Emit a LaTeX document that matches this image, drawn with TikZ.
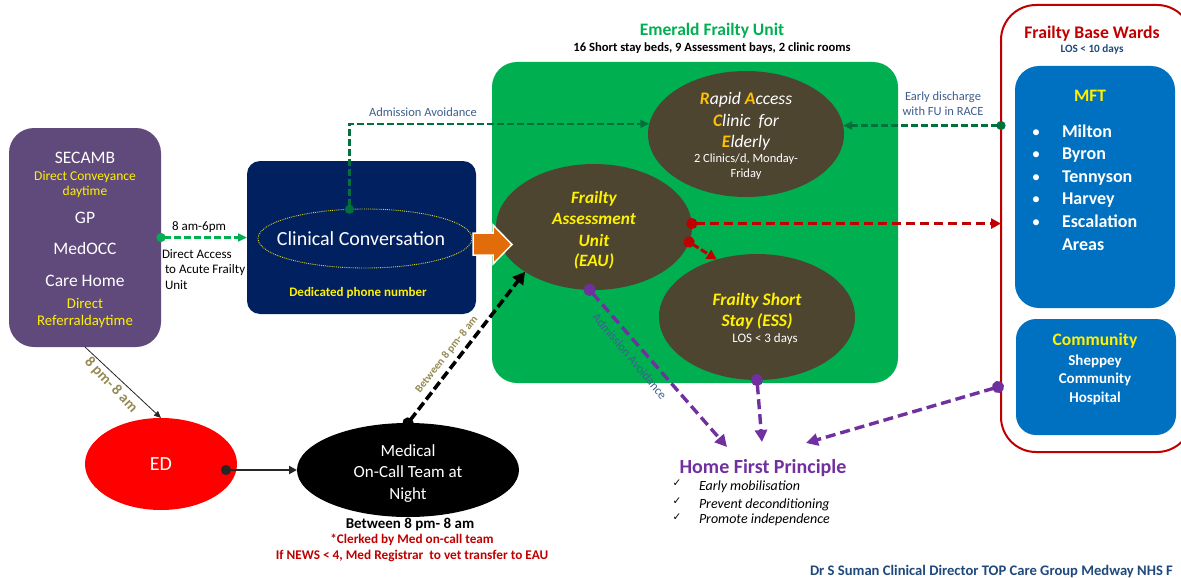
\documentclass[tikz,border=0pt]{standalone}
\usepackage{fontspec}
\setmainfont{Carlito}
\newfontfamily\symfont{DejaVu Sans}
\usetikzlibrary{arrows.meta,shapes.geometric}
\definecolor{purplebox}{HTML}{604A7B}
\definecolor{navybox}{HTML}{002060}
\definecolor{greenbox}{HTML}{00B050}
\definecolor{darkgreen}{HTML}{00703C}
\definecolor{brownel}{HTML}{4D4530}
\definecolor{bluebox}{HTML}{0070C0}
\definecolor{redline}{HTML}{C00000}
\definecolor{homepurple}{HTML}{7030A0}
\definecolor{labelblue}{HTML}{3F5F8F}
\definecolor{navytext}{HTML}{1F497D}
\definecolor{olive}{HTML}{948A54}
\definecolor{goldtxt}{HTML}{FFC000}
\definecolor{orangearrow}{HTML}{E36C0A}
\newcommand{\fs}[1]{\fontsize{#1}{#1}\selectfont}
\newcommand{\vstrut}{\rule[-.25em]{0pt}{1.22em}}
\tikzset{
  x=1pt,y=-1pt,
  box/.style={draw=none,inner sep=0pt,outer sep=0pt,anchor=center},
  oval/.style={ellipse,draw=none,inner sep=0pt,outer sep=0pt,fill=brownel,minimum width=196pt,minimum height=126pt,align=center},
  txt/.style={inner sep=0pt,outer sep=0pt,execute at begin node=\vstrut},
  ltxt/.style={inner sep=0pt,outer sep=0pt,anchor=west,execute at begin node=\vstrut},
  conn/.style={shorten <=-#1/2,line cap=butt},
  gdash/.style={dash pattern=on 6.5pt off 3.5pt},
  rdash/.style={dash pattern=on 9pt off 5pt},
  pdash/.style={dash pattern=on 10pt off 5pt},
  gtip/.style={{Circle[length=9pt]}-{Triangle[length=9pt,width=8pt]}},
  rtip/.style={{Circle[length=11pt]}-{Triangle[length=10pt,width=10pt]}},
  ptip/.style={{Circle[length=12pt]}-{Triangle[length=12pt,width=12pt]}},
}
\begin{document}
\begin{tikzpicture}
\clip (0,0) rectangle (1181,578);
\fill[white] (0,0) rectangle (1181,578);
% containers
\node[box,fill=greenbox,rounded corners=25pt,minimum width=406pt,minimum height=321pt] (unit) at (695,222.5) {};
\node[box,draw=redline,line width=2pt,rounded corners=35pt,minimum width=191pt,minimum height=447pt] (wards) at (1096.5,228.5) {};
\node[box,fill=purplebox,rounded corners=25pt,minimum width=152pt,minimum height=219pt] (secamb) at (85,237.5) {};
\node[box,fill=navybox,rounded corners=13pt,minimum width=229pt,minimum height=153pt] (navy) at (361.5,237.5) {};
\node[box,fill=bluebox,rounded corners=24pt,minimum width=160pt,minimum height=242pt] (mft) at (1095,187) {};
\node[box,fill=bluebox,rounded corners=20pt,minimum width=160pt,minimum height=116pt] (comm) at (1096,377) {};
% ellipses
\node[ellipse,draw=yellow!85!black,densely dotted,line width=.9pt,inner sep=0pt,outer sep=0pt,minimum width=214pt,minimum height=59pt] (clin) at (365,238.5) {};
\node[txt,text=white,font=\fs{20}] (clint) at (361,238) {Clinical Conversation};
\node[oval] (race) at (746,134) {};
\node[oval] (eau) at (594,227) {};
\node[oval] (ess) at (757,317) {};
\node[ellipse,fill=red,inner sep=0pt,outer sep=0pt,minimum width=152pt,minimum height=92pt,text=white,font=\fs{20}] (ed) at (161,464) {ED};
\node[ellipse,fill=black,inner sep=0pt,outer sep=0pt,minimum width=222pt,minimum height=94pt] (med) at (408,470) {};
\foreach \yy/\tx/\id in {450/Medical/a,471/On-Call Team at/b,493/Night/c}{
  \node[txt,text=white,font=\fs{17}] (med\id) at (408,\yy) {\tx};
}
\foreach \yy/\tx/\id in {197/Frailty/a,218/Assessment/b,240/Unit/c,260/(EAU)/d}{
  \node[txt,text=yellow,font=\bfseries\itshape\fs{17.3}] (eau\id) at (594,\yy) {\tx};
}
% purple box text
\node[txt,text=white,font=\fs{17.5}] (s1) at (85,157) {SECAMB};
\node[txt,text=yellow,font=\fs{13.5}] (s2) at (85,176) {Direct Conveyance};
\node[txt,text=yellow,font=\fs{13.5}] (s3) at (85,191) {daytime};
\node[txt,text=white,font=\fs{17.5}] (s4) at (85,217) {GP};
\node[txt,text=white,font=\fs{17.5}] (s5) at (85,248) {MedOCC};
\node[txt,text=white,font=\fs{17.5}] (s6) at (85,280) {Care Home};
\node[txt,text=yellow,font=\fs{14.8}] (s7) at (85,303) {Direct};
\node[txt,text=yellow,font=\fs{14.8}] (s8) at (85,320) {Referraldaytime};
% left labels
\node[txt,font=\fs{13}] (l1) at (199,226) {8 am-6pm};
\node[ltxt,font=\fs{13}] (l2) at (162,254) {Direct Access};
\node[ltxt,font=\fs{13}] (l3) at (165,269) {to Acute Frailty};
\node[ltxt,font=\fs{13}] (l4) at (165,285) {Unit};
\node[txt,text=yellow,font=\bfseries\fs{13}] (phone) at (358,292) {Dedicated phone number};
\node[txt,text=labelblue,font=\fs{12.5}] (adm) at (423,112) {Admission Avoidance};
% unit titles
\node[txt,text=greenbox,font=\bfseries\fs{17.5}] (t1) at (712,29) {Emerald Frailty Unit};
\node[txt,font=\bfseries\fs{12.6}] (t2) at (712,47) {16 Short stay beds, 9 Assessment bays, 2 clinic rooms};
% race text
\node[txt,text=white,font=\itshape\fs{17.6}] (r1) at (746,98) {{\bfseries\color{goldtxt}R}apid {\bfseries\color{goldtxt}A}ccess};
\node[txt,text=white,font=\itshape\fs{17.6}] (r2) at (746,120) {{\bfseries\color{goldtxt}C}linic\ \ for};
\node[txt,text=white,font=\itshape\fs{17.6}] (r3) at (746,141) {{\bfseries\color{goldtxt}E}lderly};
\node[txt,text=white,font=\fs{12.5}] (r4) at (746,158) {2 Clinics/d, Monday-};
\node[txt,text=white,font=\fs{12.5}] (r5) at (746,173) {Friday};
% ess text
\node[txt,text=yellow,font=\bfseries\itshape\fs{17.5}] (e1) at (757,299) {Frailty Short};
\node[txt,text=yellow,font=\bfseries\itshape\fs{17.5}] (e2) at (757,320) {Stay (ESS)};
\node[txt,text=white,font=\fs{13}] (e3) at (765,338) {LOS < 3 days};
% wards text
\node[txt,text=labelblue,font=\fs{12.5}] (d1) at (943,96) {Early discharge};
\node[txt,text=labelblue,font=\fs{12.5}] (d2) at (943,111) {with FU in RACE};
\node[txt,text=redline,font=\bfseries\fs{17.7}] (w1) at (1092,32) {Frailty Base Wards};
\node[txt,text=navytext,font=\bfseries\fs{11.2}] (w2) at (1092,48) {LOS < 10 days};
\node[txt,text=yellow,font=\bfseries\fs{17.5}] (m0) at (1090,95) {MFT};
\foreach \yy/\name/\id in {131/Milton/a,153/Byron/b,176/Tennyson/c,198/Harvey/d,221/Escalation/e}{
  \node[txt,text=white,font=\fs{17}] (bul\id) at (1036,\yy) {•};
  \node[ltxt,text=white,font=\bfseries\fs{18}] (m\id) at (1062,\yy) {\name};
}
\node[ltxt,text=white,font=\bfseries\fs{18}] (mf) at (1062,244) {Areas};
\node[txt,text=yellow,font=\bfseries\fs{17.5}] (c0) at (1095,339) {Community};
\node[txt,text=white,font=\bfseries\fs{15}] (c1) at (1095,360) {Sheppey};
\node[txt,text=white,font=\bfseries\fs{15}] (c2) at (1095,378) {Community};
\node[txt,text=white,font=\bfseries\fs{15}] (c3) at (1095,397) {Hospital};
% bottom text
\node[txt,font=\bfseries\fs{15}] (b1) at (410,523) {Between 8 pm- 8 am};
\node[txt,text=redline,font=\bfseries\fs{13.2}] (b2) at (412,539) {*Clerked by Med on-call team};
\node[txt,text=redline,font=\bfseries\fs{13.3}] (b3) at (412,555) {If NEWS < 4, Med Registrar\ \ to vet transfer to EAU};
\node[txt,text=homepurple,font=\bfseries\fs{20}] (home) at (763,466) {Home First Principle};
\foreach \yc/\yt/\tx/\id in {483/485/Early mobilisation/a,501/503/Prevent deconditioning/b,517/518/Promote independence/c}{
  \node[txt,font=\symfont\fs{10.5}] (ck\id) at (677,\yc) {✓};
  \node[ltxt,font=\itshape\fs{14}] (hp\id) at (699,\yt) {\tx};
}
\node[ltxt,text=navytext,font=\bfseries\fs{14.6}] (credit) at (810,570) {Dr S Suman Clinical Director TOP Care Group Medway NHS F};
% free connector ends
\coordinate (hA) at (727,447);
\coordinate (hB) at (762,442);
\coordinate (hC) at (806,443);
\coordinate (cdot) at (998,387);
\coordinate (edout) at (226,470);
% connectors
\draw[conn=9pt,gtip,gdash,greenbox,line width=2.6pt] (secamb.east) -- (navy.west);
\draw[conn=9pt,gtip,gdash,darkgreen,line width=2.2pt] (clin.118) |- (race.174);
\draw[conn=9pt,gtip,gdash,darkgreen,line width=2.2pt] (race.5 -| wards.west) -- (race.5);
\draw[conn=11pt,rtip,rdash,redline,line width=3pt] (eau.2) -- (eau.2 -| wards.west);
\draw[conn=11pt,rtip,dash pattern=on 7pt off 3pt,redline,line width=3pt] (eau.-9.5) -- (ess.125);
\draw[conn=11pt,{Circle[length=11pt]}-{Triangle[length=12pt,width=13pt]},dash pattern=on 9pt off 4pt,black,line width=3.6pt] (med.north) -- (eau.-147);
\draw[conn=12pt,ptip,pdash,homepurple,line width=3.4pt] (eau.-94) -- (hA);
\draw[conn=12pt,ptip,pdash,homepurple,line width=3.4pt] (ess.south) -- (hB);
\draw[conn=12pt,ptip,pdash,homepurple,line width=3.4pt] (cdot) -- (hC);
\draw[-{Triangle[length=7pt,width=6pt]},line width=.8pt,black!85] (secamb.south) -- (ed.north);
\draw[conn=10pt,{Circle[length=10pt]}-{Triangle[length=8pt,width=8pt]},line width=2.4pt,black!85] (edout) -- (med.west);
% orange block arrow
\draw[fill=orangearrow,draw=white,line width=1.5pt] (473,233)--(493,233)--(493,225)--(512,244.5)--(493,264)--(493,255)--(473,255)--cycle;
% rotated labels
\node[txt,text=olive,font=\bfseries\fs{15},rotate=-47] (rl1) at (112,384) {8 pm- 8 am};
\node[txt,text=olive,font=\bfseries\fs{11},rotate=52] (rl2) at (446,354) {Between 8 pm- 8 am};
\node[txt,text=labelblue,font=\fs{12.5},rotate=-50] (rl3) at (630,356) {Admission Avoidance};
\end{tikzpicture}
\end{document}
